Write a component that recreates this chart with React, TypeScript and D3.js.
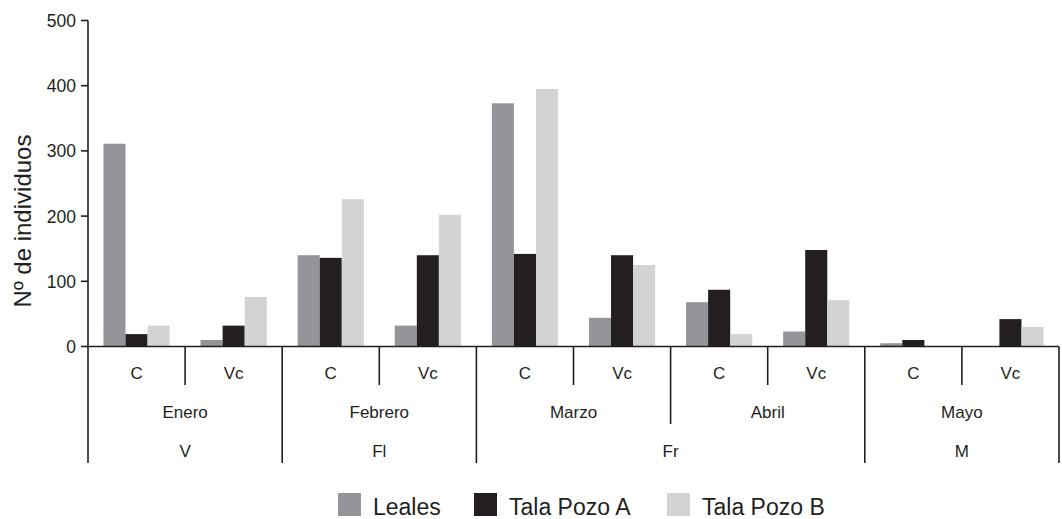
import React, { useEffect, useRef } from 'react';
import * as d3 from 'd3';

// Groups along the x axis (month x site type)
const subcats = ['C', 'Vc', 'C', 'Vc', 'C', 'Vc', 'C', 'Vc', 'C', 'Vc'];
const months = ['Enero', 'Febrero', 'Marzo', 'Abril', 'Mayo'];
const seasons = ['V', 'Fl', 'Fr', 'M'];
// which season each month belongs to
const monthSeason = [0, 1, 2, 2, 3];

const seriesNames = ['Leales', 'Tala Pozo A', 'Tala Pozo B'];
const leales = [311, 10, 140, 32, 373, 44, 68, 23, 5, 0];
const talaA = [19, 32, 136, 140, 142, 140, 87, 148, 10, 42];
const talaB = [32, 76, 226, 202, 395, 125, 19, 71, 0, 30];
const yTicks = [0, 100, 200, 300, 400, 500];

const colors = ['#939598', '#231f20', '#d1d3d4'];
const ink = '#231f20';
const font = '"Liberation Sans", Arial, Helvetica, sans-serif';

const W = 1062;
const H = 519;
const left = 88;
const right = 1059;
const top = 20.5;
const base = 346.5;

const App: React.FC = () => {
  const svgRef = useRef<SVGSVGElement>(null);

  useEffect(() => {
    if (!svgRef.current) return;
    const svg = d3.select(svgRef.current);
    svg.selectAll('*').remove();

    const groupIdx = d3.range(subcats.length);
    const x = d3.scaleBand<number>().domain(groupIdx).range([left, right]).padding(0);
    const bw = x.bandwidth();
    const xs = d3.scaleBand<number>()
      .domain([0, 1, 2])
      .range([0, bw])
      .paddingInner(0)
      .paddingOuter(0.7);
    const y = d3.scaleLinear().domain([0, 500]).range([base, top]);

    const series = [leales, talaA, talaB];

    // bars
    const g = svg.append('g');
    series.forEach((vals, si) => {
      g.selectAll(`rect.s${si}`)
        .data(vals)
        .enter()
        .append('rect')
        .attr('x', (_, i) => (x(i) as number) + (xs(si) as number))
        .attr('width', xs.bandwidth())
        .attr('y', d => y(d))
        .attr('height', d => base - y(d))
        .attr('fill', colors[si]);
    });

    // y axis
    const axis = svg.append('g').attr('stroke', ink).attr('stroke-width', 1.6);
    axis.append('line').attr('x1', left).attr('x2', left).attr('y1', top).attr('y2', 463);
    axis.append('line').attr('x1', left).attr('x2', right).attr('y1', base).attr('y2', base);
    axis.selectAll('line.tick')
      .data(yTicks)
      .enter()
      .append('line')
      .attr('x1', left - 7)
      .attr('x2', left)
      .attr('y1', d => y(d))
      .attr('y2', d => y(d));

    svg.append('g')
      .selectAll('text')
      .data(yTicks)
      .enter()
      .append('text')
      .attr('x', 76)
      .attr('y', d => y(d) + 6.5)
      .attr('text-anchor', 'end')
      .attr('font-size', 17.5)
      .attr('font-family', font)
      .attr('fill', ink)
      .text(d => d);

    svg.append('text')
      .attr('transform', `translate(31,221) rotate(-90)`)
      .attr('text-anchor', 'middle')
      .attr('font-size', 24)
      .attr('font-family', font)
      .attr('fill', ink)
      .text('Nº de individuos');

    // category dividers below the axis
    const boundaries = d3.range(1, subcats.length + 1);
    axis.selectAll('line.div')
      .data(boundaries)
      .enter()
      .append('line')
      .attr('x1', i => (i === subcats.length ? right : (x(i) as number)))
      .attr('x2', i => (i === subcats.length ? right : (x(i) as number)))
      .attr('y1', base)
      .attr('y2', i => {
        if (i % 2 === 1) return 385;
        const m = i / 2;
        if (m >= months.length || monthSeason[m] !== monthSeason[m - 1]) return 463;
        return 424;
      });

    const labels = svg.append('g')
      .attr('font-family', font)
      .attr('font-size', 17)
      .attr('fill', ink)
      .attr('text-anchor', 'middle');

    labels.selectAll('text.sub')
      .data(subcats)
      .enter()
      .append('text')
      .attr('x', (_, i) => (x(i) as number) + bw / 2)
      .attr('y', 379)
      .text(d => d);

    labels.selectAll('text.month')
      .data(months)
      .enter()
      .append('text')
      .attr('x', (_, m) => (x(m * 2) as number) + bw)
      .attr('y', 418)
      .text(d => d);

    labels.selectAll('text.season')
      .data(seasons)
      .enter()
      .append('text')
      .attr('x', (_, s) => {
        const ms = months.map((_, m) => m).filter(m => monthSeason[m] === s);
        const x0 = x(ms[0] * 2) as number;
        const x1 = (x(ms[ms.length - 1] * 2 + 1) as number) + bw;
        return (x0 + x1) / 2;
      })
      .attr('y', 457)
      .text(d => d);

    // legend
    const legendX = [338, 474, 667];
    const leg = svg.append('g');
    seriesNames.forEach((name, si) => {
      leg.append('rect')
        .attr('x', legendX[si])
        .attr('y', 493)
        .attr('width', 23)
        .attr('height', 23)
        .attr('fill', colors[si]);
      leg.append('text')
        .attr('x', legendX[si] + 35)
        .attr('y', 515)
        .attr('font-family', font)
        .attr('font-size', 23)
        .attr('fill', ink)
        .text(name);
    });
  }, []);

  return (
    <div style={{ position: 'absolute', left: 0, top: 0, width: W, height: H, background: '#fff' }}>
      <svg ref={svgRef} width={W} height={H} style={{ display: 'block' }} />
    </div>
  );
};

export default App;
